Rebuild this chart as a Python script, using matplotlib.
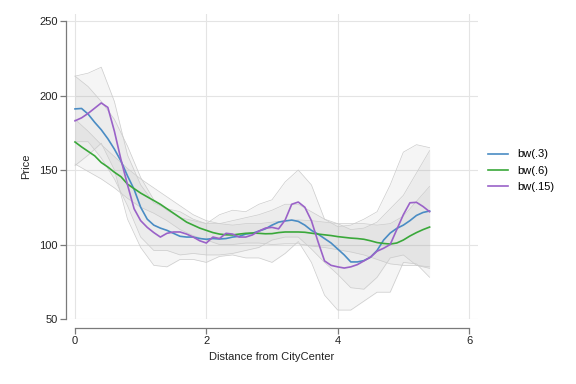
import numpy as np
import matplotlib
matplotlib.use("Agg")
import matplotlib.pyplot as plt

plt.rcParams['font.family'] = ['Liberation Sans', 'DejaVu Sans']

# smoothed lines, evaluated every 0.1 from 0 to 5.4
x_line = np.round(np.arange(0, 5.41, 0.1), 2)
bw3 = [191, 191.3, 187.5, 182, 177, 171, 164, 156, 146, 137,
       125, 117, 113, 111, 109.5, 107.5, 105.5, 105, 105, 104,
       103.5, 104, 103.7, 104, 105, 105.5, 107, 107.5, 109, 110.5,
       113, 115, 115.8, 116.4, 115.5, 113, 109.5, 107, 104, 101,
       97, 93, 88.3, 88.3, 89.2, 91.5, 96, 103, 107.7, 110.8,
       113, 116, 119.5, 121.5, 122.5]
bw6 = [168.8, 165.5, 162.5, 159.5, 155, 152, 148.5, 145.5, 140.5, 137.5,
       134.5, 132, 129.5, 127, 124, 121, 118, 115, 113, 111,
       109.5, 108, 107, 106.5, 106.4, 107, 107.5, 107.7, 107.5, 107.2,
       107.3, 108, 108.4, 108.4, 108.4, 108.2, 107.6, 107, 106.5, 106,
       105.3, 104.8, 104.3, 104, 103.5, 102.5, 101.3, 100.7, 100.3, 101,
       103, 105.7, 108, 110, 111.7]
bw15 = [183, 185, 188, 191.5, 195, 192, 176, 157, 140, 124,
        116, 111.5, 108, 105, 107.5, 108.4, 108.4, 107, 105, 102.5,
        101, 105, 104, 107.5, 107, 105, 105, 106.4, 109, 111,
        111.5, 110.5, 116.4, 127, 128.5, 125, 116, 102, 89, 86,
        85, 84.2, 85, 86.5, 89, 91.5, 95.5, 97.5, 100, 110,
        120, 128, 128.3, 125.5, 122]

# confidence bands, every 0.2 from 0 to 5.4
x_band = np.round(np.arange(0, 5.41, 0.2), 2)
ci15_hi = [213, 215, 219, 196, 160, 140, 128, 124, 122, 117, 114, 120, 123, 122,
           127, 130, 142, 150, 140, 117, 112, 113, 117, 122, 140, 162, 167, 165]
ci15_lo = [153, 160, 168, 150, 117, 98, 86, 85, 90, 90, 88, 92, 93, 91,
           91, 88, 94, 102, 88, 66, 56, 56, 62, 68, 68, 88, 87, 78]
ci3_hi = [213, 206, 196, 184, 166, 145, 130, 123, 118, 116, 114, 114, 116, 118,
          120, 123, 127, 127, 122, 117, 114, 110, 111, 115, 124, 133, 148, 163]
ci3_lo = [169, 169, 158, 144, 126, 105, 96, 96, 93, 94, 93, 93, 94, 96,
          98, 103, 105, 105, 97, 88, 80, 71, 70, 78, 91, 93, 86, 84]
ci6_hi = [184, 176, 167, 159, 151, 144, 138, 132, 126, 120, 116, 114, 113, 114,
          114, 115, 116, 116.5, 116, 115, 114, 114, 114, 113, 114, 119, 129, 139]
ci6_lo = [154, 149, 144, 138, 131, 125, 121, 116, 110, 106, 103, 100, 100, 101,
          101, 100, 100.5, 100.5, 99, 98, 96.5, 95, 93, 90, 87, 86, 86, 85]

labels = ["bw(.3)", "bw(.6)", "bw(.15)"]
colors = ["#4a8cc4", "#3aa83a", "#9a62c8"]

fig = plt.figure(figsize=(5.76, 3.84), dpi=100)
ax = fig.add_axes([66/576, 65/384, 412/576, 305/384])

# bands
for lo, hi in [(ci15_lo, ci15_hi), (ci3_lo, ci3_hi), (ci6_lo, ci6_hi)]:
    ax.fill_between(x_band, lo, hi, color="#a0a0a0", alpha=0.1, lw=0)
    ax.plot(x_band, lo, color="#cccccc", lw=0.5)
    ax.plot(x_band, hi, color="#cccccc", lw=0.5)

# lines
for y, lab, c in zip([bw3, bw6, bw15], labels, colors):
    ax.plot(x_line, y, color=c, lw=1.2, label=lab)

ax.set_xlim(-0.137, 6.137)
ax.set_ylim(50, 254.7)
ax.set_xticks([0, 2, 4, 6])
ax.set_yticks([50, 100, 150, 200, 250])
ax.grid(True, color="#e4e4e4", lw=0.8)
ax.set_axisbelow(True)

for s in ["top", "right"]:
    ax.spines[s].set_visible(False)
ax.spines["left"].set_bounds(50, 250)
ax.spines["bottom"].set_position(("outward", 6.5))
ax.spines["bottom"].set_bounds(0, 6)
for s in ["left", "bottom"]:
    ax.spines[s].set_color("#7a7a7a")
    ax.spines[s].set_linewidth(0.9)
ax.tick_params(colors="#7a7a7a", labelcolor="#222222", labelsize=8,
               length=4, width=0.9, pad=2)

ax.set_xlabel("Distance from CityCenter", fontsize=8, color="#222222", labelpad=4)
ax.set_ylabel("Price", fontsize=8, color="#222222", labelpad=6)

leg = ax.legend(loc="upper left", frameon=False, fontsize=8, handlelength=1.8,
                labelspacing=0.55, handletextpad=0.8, borderaxespad=0)
leg.set_bbox_to_anchor((484/576, 239/384), transform=fig.transFigure)

fig.savefig("out.png", dpi=100)
